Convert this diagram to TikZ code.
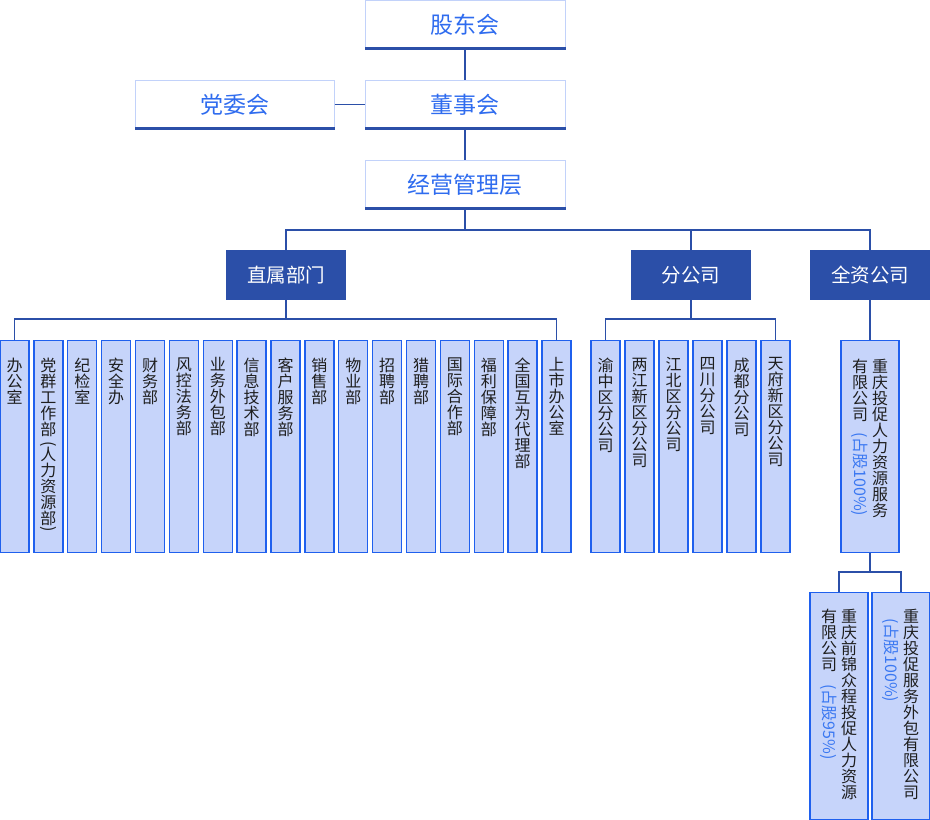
\documentclass[tikz,border=0pt]{standalone}
\usepackage{fontspec}
\usepackage{graphicx}
\setmainfont{Noto Sans CJK SC}
\definecolor{dkblue}{HTML}{2B4FA8}
\definecolor{topborder}{HTML}{C2D2FA}
\definecolor{toptext}{HTML}{2F6CEF}
\definecolor{leaffill}{HTML}{C6D4FA}
\definecolor{leafborder}{HTML}{1F60EE}
\definecolor{leaftext}{HTML}{1E1E1E}
\definecolor{pblue}{HTML}{3A78F2}
\newcommand\onecol[1]{\parbox[c][212pt][t]{29pt}{\lineskiplimit=-100pt\baselineskip=16pt\vspace*{17pt}\centering #1\par}}
\newcommand\vcol[1]{\parbox[t]{18pt}{\lineskiplimit=-100pt\baselineskip=16pt\centering #1\par}}
\newcommand\twocol[4]{\parbox[c][#1][t]{58pt}{\vspace*{#2}\centering\vcol{#3}\hspace{2pt}\vcol{#4}\par}}
\newcommand\share[1]{\rotatebox{-90}{\textcolor{pblue}{(占股#1\%)}}}
\newcommand\rot[1]{\rotatebox{-90}{#1}}
\begin{document}
\begin{tikzpicture}[x=1pt,y=-1pt,
  conn/.style={draw=dkblue,line width=1.3pt},
  topbox/.style={draw=topborder,line width=1pt,fill=white,minimum width=200pt,minimum height=48pt,inner sep=0pt,text=toptext,font=\fontsize{23}{26}\selectfont},
  midbox/.style={fill=dkblue,minimum width=120pt,minimum height=50pt,inner sep=0pt,text=white,font=\fontsize{19.5}{22}\selectfont},
  leaf/.style={draw=leafborder,fill=leaffill,line width=1.4pt,inner sep=0pt,text=leaftext,font=\fontsize{16}{16}\selectfont,anchor=north}]
\useasboundingbox (0,0) rectangle (930,820);
% top level
\node[topbox] (gd) at (465,24.5) {股东会};
\node[topbox] (dsh) at (465,104.5) {董事会};
\node[topbox,minimum width=199pt] (dwh) at (234.5,104.5) {党委会};
\node[topbox] (jy) at (465,184.5) {经营管理层};
\foreach \n in {gd,dsh,dwh,jy}
  \fill[dkblue] ([yshift=-1pt]\n.south west) rectangle ([yshift=2.5pt]\n.south east);
\draw[conn] (gd.south) -- (dsh.north);
\draw[conn] (dwh.east) -- (dsh.west);
\draw[conn] (dsh.south) -- (jy.north);
% second level
\node[midbox] (zs) at (286,275) {直属部门};
\node[midbox] (fgs) at (691,275) {分公司};
\node[midbox] (qz) at (870,275) {全资公司};
\coordinate (bus) at (465,230);
\draw[conn] (jy.south) -- (bus);
\draw[conn] (zs.north) |- (bus) -| (qz.north);
\draw[conn] (fgs.north) -- (fgs.north |- bus);
% direct departments
\node[leaf] (d1) at (14.5,340) {\onecol{办\\公\\室}};
\node[leaf] (d2) at (48.375,340) {\onecol{党\\群\\工\\作\\部\\[-10pt]\rot{(}\\[3pt]人\\力\\资\\源\\部\\[-14pt]\rot{)}}};
\node[leaf] (d3) at (82.25,340) {\onecol{纪\\检\\室}};
\node[leaf] (d4) at (116.125,340) {\onecol{安\\全\\办}};
\node[leaf] (d5) at (150,340) {\onecol{财\\务\\部}};
\node[leaf] (d6) at (183.875,340) {\onecol{风\\控\\法\\务\\部}};
\node[leaf] (d7) at (217.75,340) {\onecol{业\\务\\外\\包\\部}};
\node[leaf] (d8) at (251.625,340) {\onecol{信\\息\\技\\术\\部}};
\node[leaf] (d9) at (285.5,340) {\onecol{客\\户\\服\\务\\部}};
\node[leaf] (d10) at (319.375,340) {\onecol{销\\售\\部}};
\node[leaf] (d11) at (353.25,340) {\onecol{物\\业\\部}};
\node[leaf] (d12) at (387.125,340) {\onecol{招\\聘\\部}};
\node[leaf] (d13) at (421,340) {\onecol{猎\\聘\\部}};
\node[leaf] (d14) at (454.875,340) {\onecol{国\\际\\合\\作\\部}};
\node[leaf] (d15) at (488.75,340) {\onecol{福\\利\\保\\障\\部}};
\node[leaf] (d16) at (522.625,340) {\onecol{全\\国\\互\\为\\代\\理\\部}};
\node[leaf] (d17) at (556.5,340) {\onecol{上\\市\\办\\公\\室}};
\coordinate (zsbus) at (286,319);
\draw[conn] (zs.south) -- (zsbus);
\draw[conn] (d1.north) |- (zsbus) -| (d17.north);
% branches
\node[leaf] (f1) at (605.5,340) {\onecol{渝\\中\\区\\分\\公\\司}};
\node[leaf] (f2) at (639.5,340) {\onecol{两\\江\\新\\区\\分\\公\\司}};
\node[leaf] (f3) at (673.5,340) {\onecol{江\\北\\区\\分\\公\\司}};
\node[leaf] (f4) at (707.5,340) {\onecol{四\\川\\分\\公\\司}};
\node[leaf] (f5) at (741.5,340) {\onecol{成\\都\\分\\公\\司}};
\node[leaf] (f6) at (775.5,340) {\onecol{天\\府\\新\\区\\分\\公\\司}};
\coordinate (fbus) at (691,319);
\draw[conn] (fgs.south) -- (fbus);
\draw[conn] (f1.north) |- (fbus) -| (f6.north);
% wholly owned
\node[leaf] (q1) at (870,340) {\twocol{212pt}{18pt}{有\\限\\公\\司\\[-4pt]\share{100}}{重\\庆\\投\\促\\人\\力\\资\\源\\服\\务}};
\draw[conn] (qz.south) -- (q1.north);
\node[leaf] (q2) at (839,592) {\twocol{227pt}{16pt}{有\\限\\公\\司\\[-2pt]\share{95}}{重\\庆\\前\\锦\\众\\程\\投\\促\\人\\力\\资\\源}};
\node[leaf] (q3) at (901,592) {\twocol{227pt}{16pt}{\raisebox{4pt}{\share{100}}}{重\\庆\\投\\促\\服\\务\\外\\包\\有\\限\\公\\司}};
\coordinate (qbus) at (870,572);
\draw[conn] (q1.south) -- (qbus);
\draw[conn] (q2.north) |- (qbus) -| (q3.north);
\end{tikzpicture}
\end{document}
